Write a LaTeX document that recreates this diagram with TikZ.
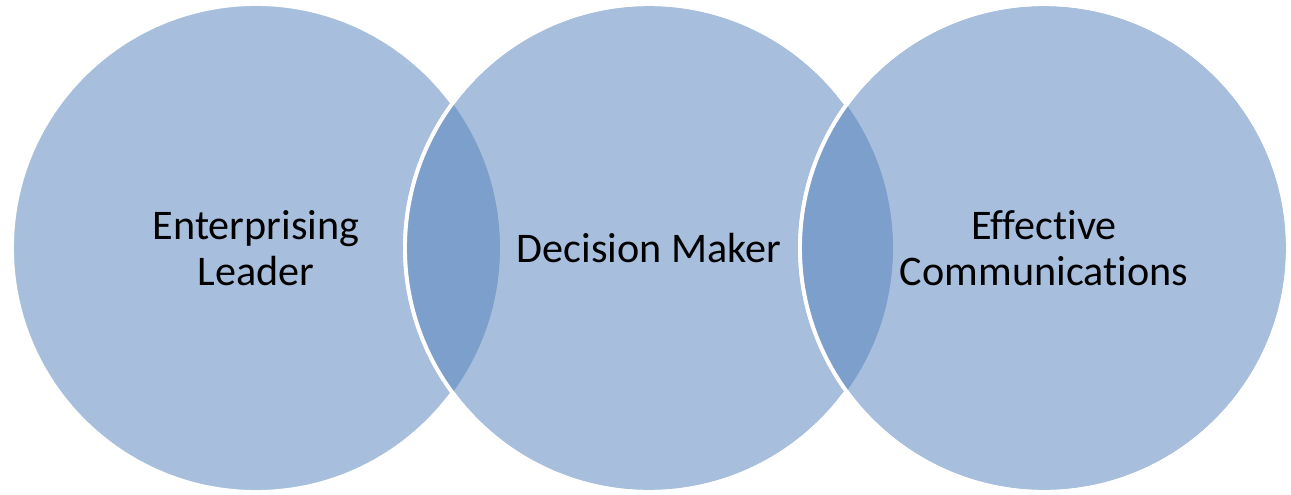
\documentclass[tikz,border=0pt]{standalone}
\usepackage{fontspec}
\setmainfont[Ligatures=NoCommon]{Carlito}
\definecolor{ringblue}{HTML}{A7BFDD}
\definecolor{lensblue}{HTML}{7C9FCC}
\begin{document}
\begin{tikzpicture}[x=0.02cm,y=-0.02cm,
  ring/.style={fill=ringblue,draw=white,line width=2.2pt},
  label/.style={align=center,font=\fontsize{24}{26}\selectfont}]
\useasboundingbox (0,0) rectangle (1291,494);
\coordinate (lc) at (256,248);
\coordinate (mc) at (649,248);
\coordinate (rc) at (1044,248);
\draw[ring] (lc) circle (244);
\draw[ring] (mc) circle (244);
\begin{scope}
\clip (lc) circle (244);
\fill[lensblue] (mc) circle (244);
\end{scope}
\draw[white,line width=2.2pt] (mc) circle (244);
\draw[ring] (rc) circle (244);
\begin{scope}
\clip (mc) circle (244);
\fill[lensblue] (rc) circle (244);
\end{scope}
\draw[white,line width=2.2pt] (rc) circle (244);
\node[label] (lead) at (lc) {Enterprising\\Leader};
\node[label] (dec) at (mc) {Decision Maker};
\node[label] (comm) at (rc) {Effective\\Communications};
\end{tikzpicture}
\end{document}
